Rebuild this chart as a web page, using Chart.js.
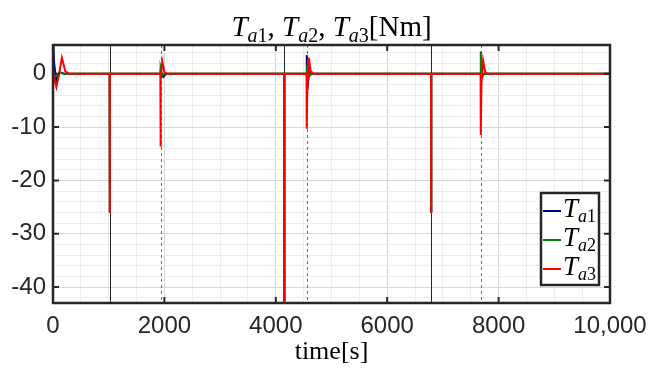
<!DOCTYPE html>
<html>
<head>
<meta charset="utf-8">
<script src="https://cdn.jsdelivr.net/npm/chart.js@4.4.0/dist/chart.umd.min.js"></script>
<style>
  html, body { margin: 0; padding: 0; background: #fff; }
  #wrap { width: 651px; height: 374px; }
</style>
</head>
<body>
<div id="wrap"><canvas id="torqueChart" width="651" height="374"></canvas></div>
<script>
// [time s, torque Nm]
const ta1Points = [
  [0, 8], [20, 2], [60, -1.4], [120, 0.3], [200, 0],
  [1018, 0], [1020, -26], [1022, 0],
  [1926, 0], [1932, 0.3], [1980, -0.6], [2030, 0],
  [4151, 0], [4153, -50], [4155, 0],
  [4550, 0], [4556, 3.5], [4566, -3], [4600, 0.5], [4650, 0],
  [6788, 0], [6790, -26], [6792, 0],
  [7690, 0], [7710, -0.5], [7740, 0],
  [10000, 0]
];
const ta2Points = [
  [0, 0.5], [50, -0.5], [120, 0.2], [200, 0],
  [1018, 0], [1020, -26], [1022, 0],
  [1925, 0], [1933, 1], [1960, -0.3], [2000, 0],
  [4151, 0], [4153, -50], [4155, 0],
  [4555, 0], [4570, 1.6], [4600, -0.5], [4640, 0],
  [6788, 0], [6790, -26], [6792, 0],
  [7676, 0], [7680, 4.2], [7692, -0.5], [7750, 0],
  [10000, 0]
];
const ta3Points = [
  [0, 0], [60, -2.5], [110, 0], [160, 3], [220, 0.5], [280, 0],
  [1018, 0], [1020, -26.1], [1022, 0],
  [1927, 0], [1930, -13.7], [1936, -1], [1962, 2.3], [2000, 0.3], [2050, 0],
  [4151, 0], [4153, -50], [4155, 0],
  [4552, 0], [4555, -10.3], [4566, -3], [4595, 3], [4625, 0.5], [4670, 0],
  [6788, 0], [6790, -26.1], [6792, 0],
  [7677, 0], [7680, -11.5], [7692, -2], [7722, 2.5], [7760, 0.3], [7800, 0],
  [10000, 0]
];

const seriesNames = ['a1', 'a2', 'a3'];
const seriesColors = ['#00007f', '#007f00', '#ff0000'];

const solidEvents = [1020, 4153, 6790];
const dashedEvents = [1930, 4555, 7680];

const xTicks = [0, 2000, 4000, 6000, 8000, 10000];
const xTickLabels = ['0', '2000', '4000', '6000', '8000', '10,000'];
const yTicks = [0, -10, -20, -30, -40];
const yTickLabels = ['0', '-10', '-20', '-30', '-40'];

const X_MIN = 0, X_MAX = 10000, Y_MIN = -43, Y_MAX = 5.4;
const AXIS_COLOR = '#262626';
const SERIF = '"Liberation Serif", "DejaVu Serif", serif';
const SANS = '"Liberation Sans", Arial, sans-serif';

// draw text pieces with subscripts
function drawRich(ctx, parts, cx, baseline, align) {
  let widths = parts.map(p => {
    ctx.font = (p.italic ? 'italic ' : '') + p.size + 'px ' + SERIF;
    return ctx.measureText(p.text).width;
  });
  let total = widths.reduce((a, b) => a + b, 0);
  let x = align === 'left' ? cx : cx - total / 2;
  ctx.textBaseline = 'alphabetic';
  ctx.textAlign = 'left';
  parts.forEach((p, i) => {
    ctx.font = (p.italic ? 'italic ' : '') + p.size + 'px ' + SERIF;
    ctx.fillText(p.text, x, baseline + (p.sub ? p.size * 0.3 : 0));
    x += widths[i];
  });
}

function torqueLabel(n, big, small) {
  return [
    {text: 'T', italic: true, size: big},
    {text: 'a', italic: true, size: small, sub: true},
    {text: n, size: small, sub: true}
  ];
}

const decorPlugin = {
  id: 'decor',
  beforeDatasetsDraw(chart) {
    const {ctx, chartArea, scales} = chart;
    ctx.save();
    ctx.lineWidth = 1;
    solidEvents.forEach(t => {
      const px = Math.round(scales.x.getPixelForValue(t)) + 0.5;
      ctx.strokeStyle = '#262626';
      ctx.setLineDash([]);
      ctx.beginPath();
      ctx.moveTo(px, chartArea.top);
      ctx.lineTo(px, chartArea.bottom);
      ctx.stroke();
    });
    dashedEvents.forEach(t => {
      const px = Math.round(scales.x.getPixelForValue(t)) + 0.5;
      ctx.strokeStyle = '#707070';
      ctx.setLineDash([3, 3]);
      ctx.beginPath();
      ctx.moveTo(px, chartArea.top);
      ctx.lineTo(px, chartArea.bottom);
      ctx.stroke();
    });
    ctx.restore();
  },
  afterDraw(chart) {
    const {ctx, chartArea, scales} = chart;
    const {left, right, top, bottom} = chartArea;
    ctx.save();
    ctx.strokeStyle = AXIS_COLOR;
    ctx.fillStyle = AXIS_COLOR;
    ctx.setLineDash([]);

    // inward ticks
    ctx.lineWidth = 2;
    xTicks.forEach(v => {
      const px = scales.x.getPixelForValue(v);
      ctx.beginPath();
      ctx.moveTo(px, bottom); ctx.lineTo(px, bottom - 6);
      ctx.moveTo(px, top); ctx.lineTo(px, top + 6);
      ctx.stroke();
    });
    yTicks.forEach(v => {
      const py = scales.y.getPixelForValue(v);
      ctx.beginPath();
      ctx.moveTo(left, py); ctx.lineTo(left + 6, py);
      ctx.moveTo(right, py); ctx.lineTo(right - 6, py);
      ctx.stroke();
    });

    // box
    ctx.lineWidth = 2.5;
    ctx.strokeRect(left, top, right - left, bottom - top);

    // title
    ctx.fillStyle = '#000000';
    let title = [];
    ['1', '2', '3'].forEach((n, i) => {
      title = title.concat(torqueLabel(n, 29, 20));
      if (i < 2) title.push({text: ', ', size: 29});
    });
    title.push({text: '[Nm]', size: 29});
    drawRich(ctx, title, (left + right) / 2, 36, 'center');

    // x label
    drawRich(ctx, [{text: 'time[s]', size: 26}], (left + right) / 2, 359, 'center');

    // legend
    const lx = 541, ly = 193, lw = 58, lh = 92;
    ctx.fillStyle = '#ffffff';
    ctx.fillRect(lx, ly, lw, lh);
    ctx.lineWidth = 2.5;
    ctx.strokeStyle = AXIS_COLOR;
    ctx.strokeRect(lx, ly, lw, lh);
    seriesNames.forEach((name, i) => {
      const rowY = 211 + i * 29;
      ctx.strokeStyle = seriesColors[i];
      ctx.lineWidth = 2;
      ctx.beginPath();
      ctx.moveTo(543, rowY); ctx.lineTo(561, rowY);
      ctx.stroke();
      ctx.fillStyle = '#000000';
      drawRich(ctx, torqueLabel(name.slice(1), 27, 18), 563, rowY + 6, 'left');
    });
    ctx.restore();
  }
};

const datasets = [ta1Points, ta2Points, ta3Points].map((pts, i) => ({
  label: 'T_' + seriesNames[i],
  data: pts.map(p => ({x: p[0], y: p[1]})),
  borderColor: seriesColors[i],
  backgroundColor: seriesColors[i],
  borderWidth: 2,
  pointRadius: 0,
  tension: 0,
  order: 3 - i
}));

new Chart(document.getElementById('torqueChart'), {
  type: 'line',
  data: {datasets: datasets},
  options: {
    responsive: false,
    animation: false,
    devicePixelRatio: 1,
    layout: {padding: {top: 45, right: 41, left: 0, bottom: 0}},
    plugins: {
      legend: {display: false},
      title: {display: false},
      tooltip: {enabled: false}
    },
    scales: {
      x: {
        type: 'linear',
        min: X_MIN,
        max: X_MAX,
        afterBuildTicks: scale => {
          const t = [];
          for (let v = X_MIN; v <= X_MAX; v += 500) t.push({value: v});
          scale.ticks = t;
        },
        afterFit: scale => {
          scale.height = 71;
          scale.paddingLeft = 0;
          scale.paddingRight = 0;
        },
        border: {display: false},
        grid: {
          drawTicks: false,
          lineWidth: 1,
          color: c => (c.tick && c.tick.value % 2000 === 0) ? '#d6d6d6' : '#ececec'
        },
        ticks: {
          autoSkip: false,
          maxRotation: 0,
          padding: 9,
          color: AXIS_COLOR,
          font: {family: SANS, size: 24},
          callback: v => {
            const k = xTicks.indexOf(v);
            return k >= 0 ? xTickLabels[k] : '';
          }
        }
      },
      y: {
        min: Y_MIN,
        max: Y_MAX,
        afterBuildTicks: scale => {
          const t = [];
          for (let v = 4; v >= -42; v -= 2) t.push({value: v});
          scale.ticks = t;
        },
        afterFit: scale => {
          scale.width = 53;
          scale.paddingTop = 0;
          scale.paddingBottom = 0;
        },
        border: {display: false},
        grid: {
          drawTicks: false,
          lineWidth: 1,
          color: c => (c.tick && c.tick.value % 10 === 0) ? '#d6d6d6' : '#ececec'
        },
        ticks: {
          autoSkip: false,
          padding: 7,
          color: AXIS_COLOR,
          font: {family: SANS, size: 24},
          callback: v => {
            const k = yTicks.indexOf(v);
            return k >= 0 ? yTickLabels[k] : '';
          }
        }
      }
    }
  },
  plugins: [decorPlugin]
});
</script>
</body>
</html>
